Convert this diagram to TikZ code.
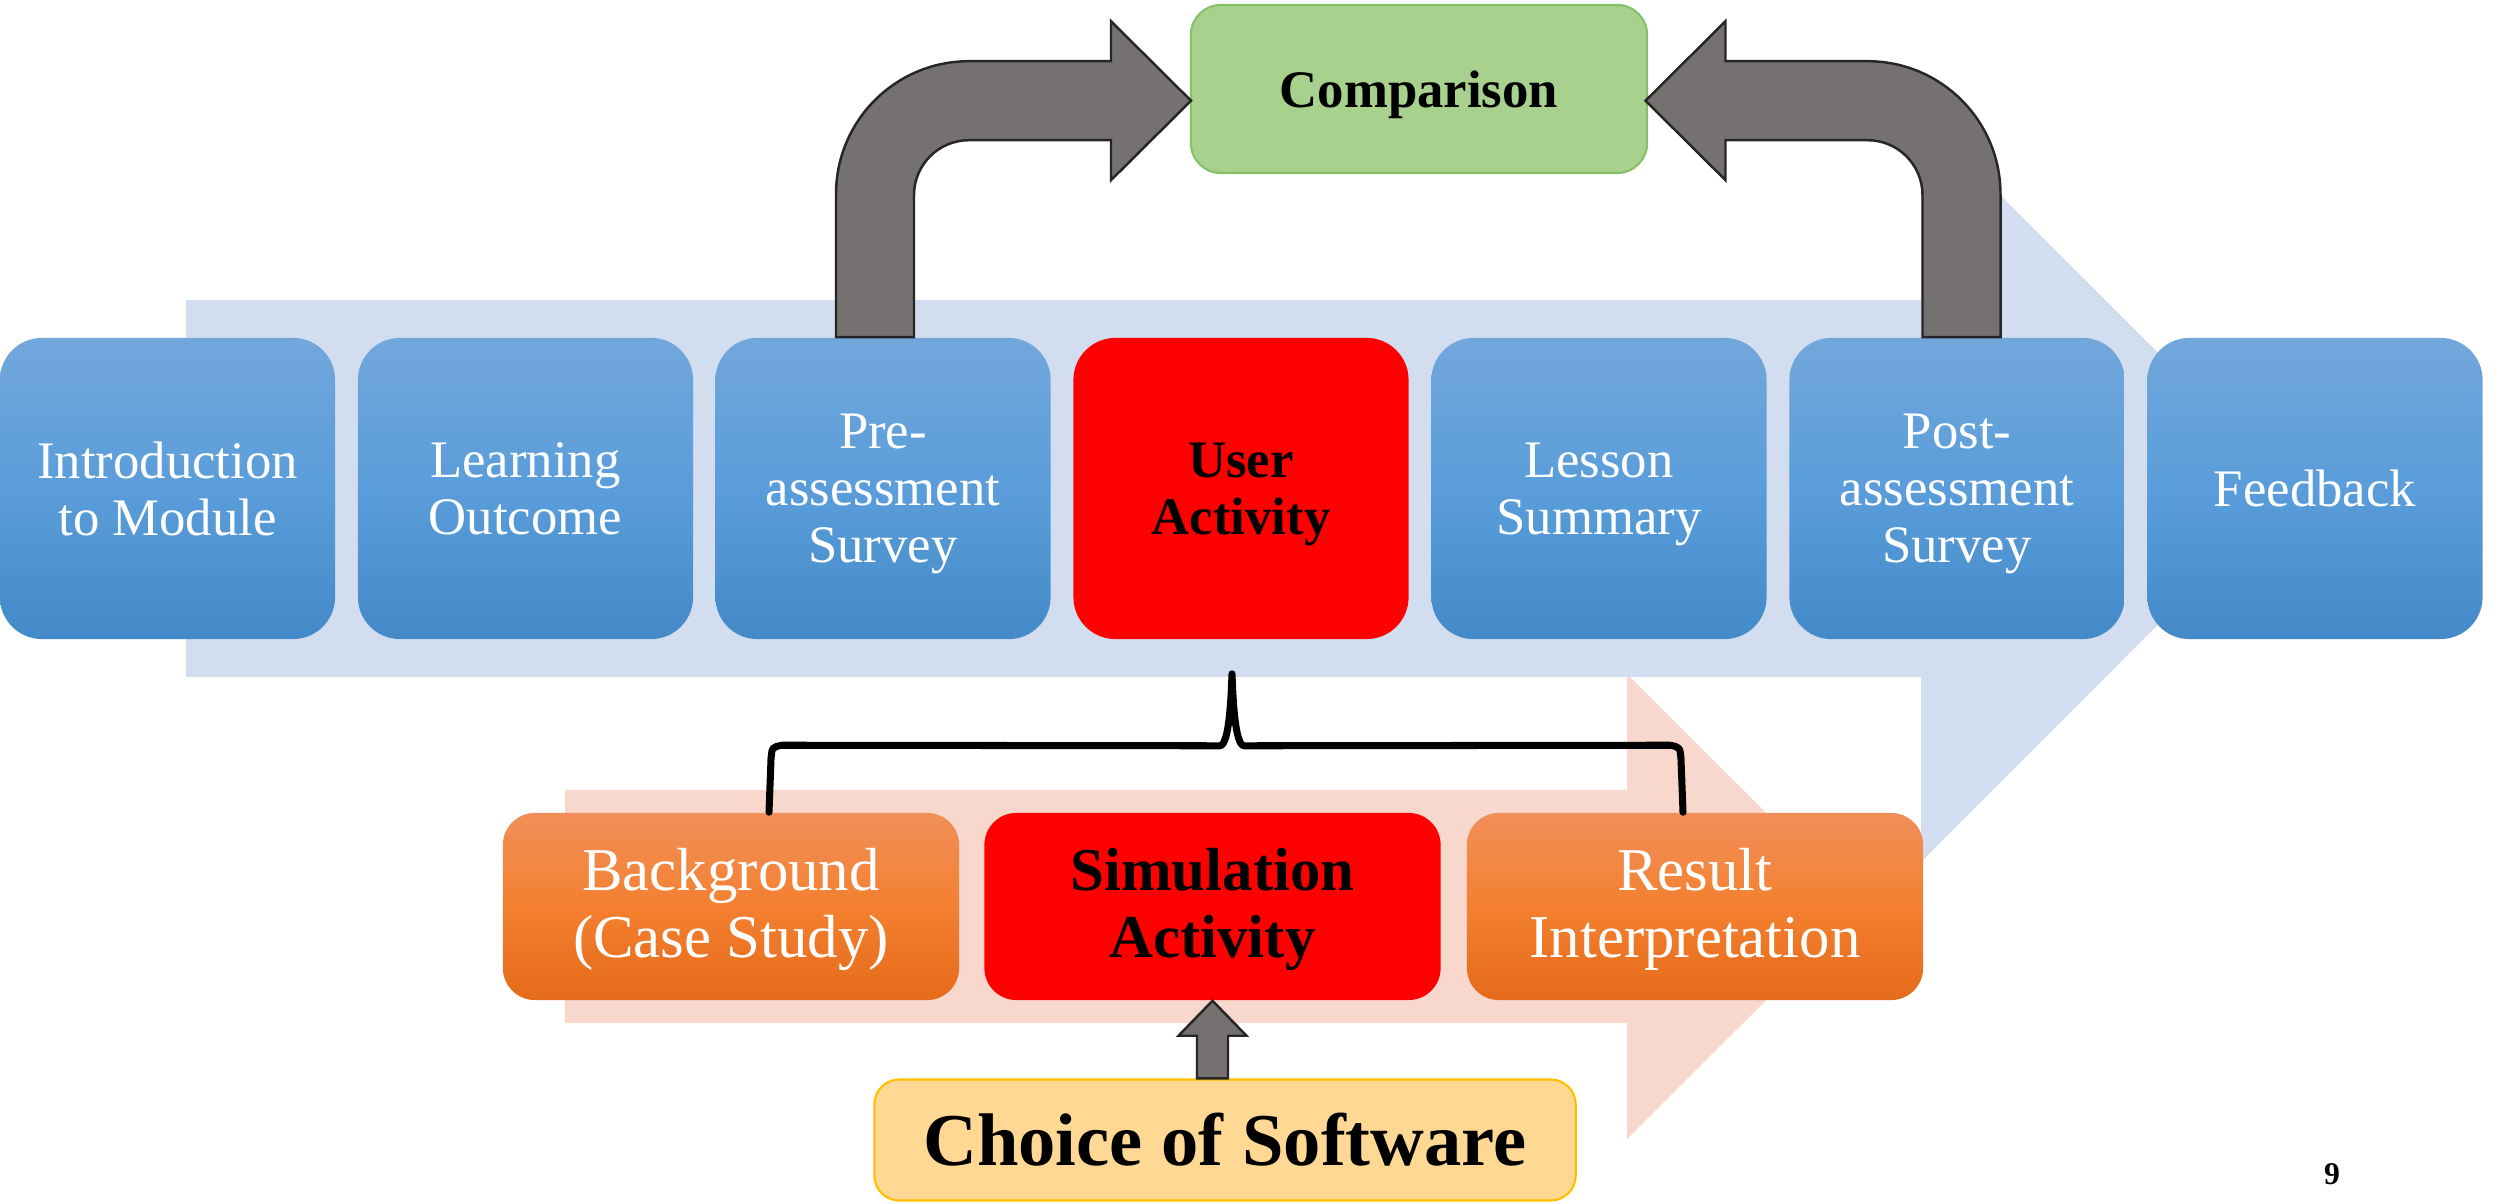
\documentclass[tikz,border=0pt]{standalone}
\usepackage{fontspec}
\setmainfont{Liberation Serif}
\usetikzlibrary{calc}
\definecolor{bandblue}{RGB}{210,222,239}
\definecolor{bandorange}{RGB}{248,215,205}
\definecolor{bluetop}{RGB}{114,167,219}
\definecolor{bluemid}{RGB}{90,157,218}
\definecolor{bluebot}{RGB}{68,137,200}
\definecolor{ortop}{RGB}{241,143,89}
\definecolor{ormid}{RGB}{244,128,48}
\definecolor{orbot}{RGB}{228,107,26}
\definecolor{arrowgray}{RGB}{117,113,112}
\definecolor{compgreen}{RGB}{169,209,142}
\definecolor{compedge}{RGB}{135,192,105}
\definecolor{softfill}{RGB}{255,217,148}
\definecolor{softedge}{RGB}{255,192,0}
\begin{document}
\begin{tikzpicture}[x=0.01cm,y=-0.01cm,
  topbox/.style={rounded corners=0.42cm, minimum width=3.35cm, minimum height=3.01cm,
    inner sep=0pt, align=center, text depth=0pt, font=\fontsize{15}{16.2}\selectfont},
  bluebox/.style={topbox, top color=bluetop, bottom color=bluebot, middle color=bluemid, text=white},
  redtopbox/.style={topbox, fill=red, text=black, font=\fontsize{15}{16.2}\selectfont\bfseries},
  lowbox/.style={rounded corners=0.32cm, minimum width=4.56cm, minimum height=1.87cm,
    inner sep=0pt, align=center, text depth=2pt, font=\fontsize{17.3}{19}\selectfont},
  orangebox/.style={lowbox, top color=ortop, bottom color=orbot, middle color=ormid, text=white},
  redlowbox/.style={lowbox, fill=red, text=black, font=\fontsize{17.3}{19}\selectfont\bfseries},
  grayarrow/.style={fill=arrowgray, draw=black!85, line width=0.7pt},
  bracestyle/.style={draw=black, line width=2pt, line cap=round, line join=round}
]
\path[use as bounding box] (0,0) rectangle (2496,1204);

% background process arrows
\fill[bandorange] (565,790) -- (1627,790) -- (1627,674) -- (1860,906.5) -- (1627,1139) -- (1627,1023) -- (565,1023) -- cycle;
\fill[bandblue] (186,300) -- (1921,300) -- (1921,116) -- (2294,488.5) -- (1921,862) -- (1921,677) -- (186,677) -- cycle;

% top row
\node[bluebox] (intro) at (167.5,488.5) {Introduction\\to Module};
\node[bluebox] (learn) at (525.5,488.5) {Learning\\Outcome};
\node[bluebox] (pre) at (883,488.5) {Pre-\\assessment\\Survey};
\node[redtopbox] (user) at (1241,488.5) {User\\Activity};
\node[bluebox] (lesson) at (1599,488.5) {Lesson\\Summary};
\node[bluebox] (post) at (1957,488.5) {Post-\\assessment\\Survey};
\node[bluebox] (feed) at (2315,488.5) {Feedback};

% comparison
\node[rounded corners=0.3cm, fill=compgreen, draw=compedge, line width=0.6pt,
  minimum width=4.56cm, minimum height=1.68cm, inner sep=0pt, text depth=0pt,
  font=\fontsize{15}{16.2}\selectfont\bfseries] (comp) at (1419,89) {Comparison};

% bent arrows into comparison
\begin{scope}[shift={($(pre.north)+(-8,0)$)}]
\draw[grayarrow] (-39,0) -- (-39,-143) .. controls (-39,-216.5) and (20.5,-276) .. (94,-276)
  -- (236,-276) -- (236,-316) -- (316,-236.5) -- (236,-157) -- (236,-197) -- (94,-197)
  .. controls (63.6,-197) and (39,-172.4) .. (39,-142) -- (39,0) -- cycle;
\end{scope}
\begin{scope}[shift={($(post.north)+(4.5,0)$)}, xscale=-1]
\draw[grayarrow] (-39,0) -- (-39,-143) .. controls (-39,-216.5) and (20.5,-276) .. (94,-276)
  -- (236,-276) -- (236,-316) -- (316,-236.5) -- (236,-157) -- (236,-197) -- (94,-197)
  .. controls (63.6,-197) and (39,-172.4) .. (39,-142) -- (39,0) -- cycle;
\end{scope}

% bottom row
\node[orangebox] (bg) at (731,906.5) {Background\\(Case Study)};
\node[redlowbox] (sim) at (1212.5,906.5) {Simulation\\Activity};
\node[orangebox] (res) at (1695,906.5) {Result\\Interpretation};

% brace from user activity
\coordinate (btip) at ($(user.south)+(-9,34)$);
\coordinate (bl) at ($(bg.north)+(38,0)$);
\coordinate (br) at ($(res.north)+(-12,0)$);
\draw[bracestyle] (bl) -- ($(bl)+(2,-53)$) .. controls ($(bl)+(3,-65)$) .. ($(bl)+(13,-67)$)
  -- ($(btip)+(-12,72)$) .. controls ($(btip)+(-3,71)$) and ($(btip)+(-1,27)$) .. (btip)
  .. controls ($(btip)+(1,27)$) and ($(btip)+(3,71)$) .. ($(btip)+(12,72)$)
  -- ($(br)+(-13,-67)$) .. controls ($(br)+(-3,-65)$) .. ($(br)+(-2,-53)$) -- (br);

% choice of software
\node[rounded corners=0.25cm, fill=softfill, draw=softedge, line width=0.6pt,
  minimum width=7.01cm, minimum height=1.21cm, inner sep=0pt,
  font=\fontsize{21.2}{24}\selectfont\bfseries] (soft) at (1225,1140) {Choice of Software};

% up arrow into simulation
\coordinate (ua) at (sim.south);
\draw[grayarrow] ($(ua |- soft.north)+(-15.5,0)$) -- ($(ua)+(-15.5,35)$) -- ($(ua)+(-34,35)$)
  -- (ua) -- ($(ua)+(34,35)$) -- ($(ua)+(15.5,35)$) -- ($(ua |- soft.north)+(15.5,0)$) -- cycle;

% page number
\node[font=\fontsize{9}{10}\selectfont\bfseries, inner sep=0pt] (pnum) at (2332,1174) {9};
\end{tikzpicture}
\end{document}
